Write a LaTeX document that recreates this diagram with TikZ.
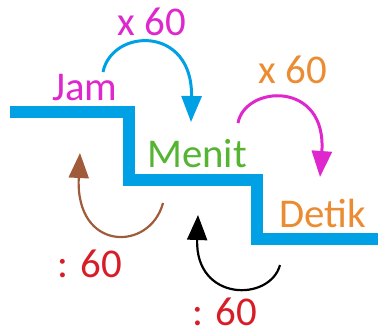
\documentclass[tikz,border=0pt]{standalone}
\usepackage{fontspec}
\setmainfont{Carlito}
\usetikzlibrary{arrows.meta}
\definecolor{stairblue}{RGB}{0,160,228}
\definecolor{mag}{RGB}{222,40,205}
\definecolor{grn}{RGB}{85,180,50}
\definecolor{org}{RGB}{236,140,50}
\definecolor{brn}{RGB}{160,92,58}
\definecolor{rd}{RGB}{215,30,40}
\tikzset{
  lbl/.style={anchor=base, inner sep=0pt, font=\fontsize{41}{44}\selectfont},
  conv/.style={line width=3bp, -{Triangle[length=26bp,width=20bp]}},
  convthin/.style={line width=2.2bp, -{Triangle[length=25bp,width=20bp]}}
}
\begin{document}
\begin{tikzpicture}[x=1bp,y=-1bp]
\useasboundingbox (0,0) rectangle (378,336);
% staircase
\draw[stairblue, line width=12bp, miter limit=10] (10,112) -- (129,112) -- (129,180) -- (257,180) -- (257,239) -- (380,239);
% labels
\node[lbl, text=mag] (jam) at (85,100) {Jam};
\node[lbl, text=grn] (menit) at (197,167) {Menit};
\node[lbl, text=org] (detik) at (323,227) {Detik};
\node[lbl, text=mag] (m1) at (152,35) {x 60};
\node[lbl, text=org] (m2) at (293,83) {x 60};
\node[lbl, text=rd] (d1) at (90,277) {: 60};
\node[lbl, text=rd] (d2) at (225,325) {: 60};
% arc endpoints
\coordinate (a1s) at (103,72);
\coordinate (a1e) at (191,122);
\coordinate (a2s) at (238,123);
\coordinate (a2e) at (320,177);
\coordinate (a3s) at (163,203);
\coordinate (a3e) at (80,153);
\coordinate (a4s) at (280,265);
\coordinate (a4e) at (198,215);
% arcs
\draw[conv, stairblue] (a1s) .. controls (112,28) and (193,25) .. (a1e);
\draw[conv, mag] (a2s) .. controls (245,85) and (327,80) .. (a2e);
\draw[convthin, brn] (a3s) .. controls (150,252) and (75,252) .. (a3e);
\draw[convthin, black] (a4s) .. controls (270,302) and (195,302) .. (a4e);
\end{tikzpicture}
\end{document}
